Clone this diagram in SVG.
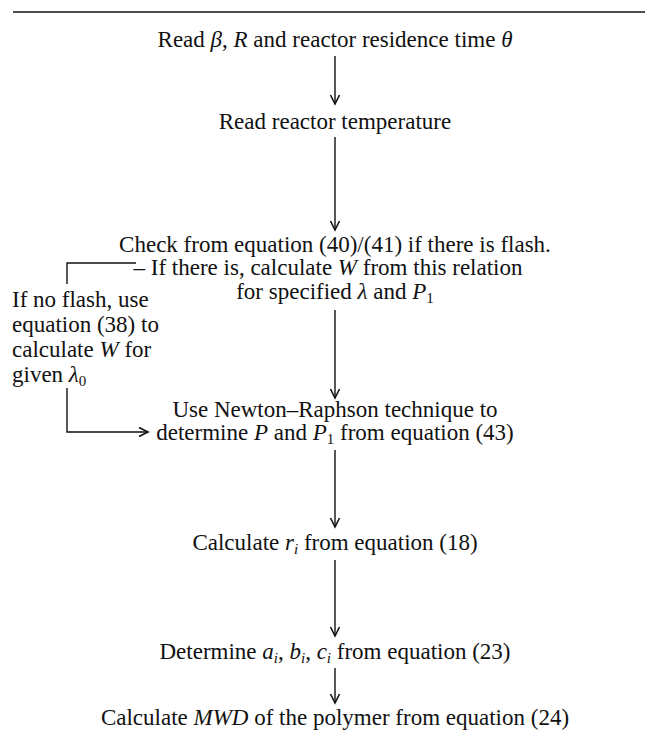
<svg xmlns="http://www.w3.org/2000/svg" width="645" height="736" viewBox="0 0 645 736">
<defs>
<style>
text{font-family:"Liberation Serif","Times New Roman",serif;font-size:23px;fill:#111}
.c{text-anchor:middle}
.i{font-style:italic}
.s{font-size:15px}
.ln{stroke:#111;stroke-width:1.4;fill:none}
</style>
<marker id="ah" markerWidth="12" markerHeight="12" refX="10" refY="6" orient="auto" markerUnits="userSpaceOnUse" viewBox="0 0 12 12">
<path d="M1,1.5 L10,6 L1,10.5" fill="none" stroke="#111" stroke-width="1.6"/>
</marker>
</defs>
<rect width="645" height="736" fill="#fff"/>
<line class="ln" x1="13" y1="12" x2="645" y2="12"/>
<g id="n1"><text class="c" x="335" y="47">Read <tspan class="i">β</tspan>, <tspan class="i">R</tspan> and reactor residence time <tspan class="i">θ</tspan></text></g>
<g id="n2"><text class="c" x="335" y="129">Read reactor temperature</text></g>
<g id="n3">
<text class="c" x="335" y="252">Check from equation (40)/(41) if there is flash.</text>
<text class="c" x="328" y="275">– If there is, calculate <tspan class="i">W</tspan> from this relation</text>
<text class="c" x="335" y="299">for specified <tspan class="i">λ</tspan> and <tspan class="i">P</tspan><tspan class="s" dy="4">1</tspan></text>
</g>
<g id="n4">
<text x="12" y="307">If no flash, use</text>
<text x="12" y="332">equation (38) to</text>
<text x="12" y="357">calculate <tspan class="i">W</tspan> for</text>
<text x="12" y="382">given <tspan class="i">λ</tspan><tspan class="s" dy="4">0</tspan></text>
</g>
<g id="n5">
<text class="c" x="335" y="417">Use Newton–Raphson technique to</text>
<text class="c" x="335" y="440">determine <tspan class="i">P</tspan> and <tspan class="i">P</tspan><tspan class="s" dy="4">1</tspan><tspan dy="-4"> from equation (43)</tspan></text>
</g>
<g id="n6"><text class="c" x="335" y="550">Calculate <tspan class="i">r</tspan><tspan class="s i" dy="4">i</tspan><tspan dy="-4"> from equation (18)</tspan></text></g>
<g id="n7"><text class="c" x="335" y="659">Determine <tspan class="i">a</tspan><tspan class="s i" dy="4">i</tspan><tspan dy="-4">, </tspan><tspan class="i">b</tspan><tspan class="s i" dy="4">i</tspan><tspan dy="-4">, </tspan><tspan class="i">c</tspan><tspan class="s i" dy="4">i</tspan><tspan dy="-4"> from equation (23)</tspan></text></g>
<g id="n8"><text class="c" x="335" y="725">Calculate <tspan class="i">MWD</tspan> of the polymer from equation (24)</text></g>
<g id="connectors">
<line class="ln" x1="335" y1="56" x2="335" y2="104" marker-end="url(#ah)"/>
<line class="ln" x1="335" y1="137" x2="335" y2="230" marker-end="url(#ah)"/>
<line class="ln" x1="335" y1="310" x2="335" y2="398" marker-end="url(#ah)"/>
<line class="ln" x1="335" y1="450" x2="335" y2="527" marker-end="url(#ah)"/>
<line class="ln" x1="335" y1="560" x2="335" y2="636" marker-end="url(#ah)"/>
<line class="ln" x1="335" y1="668" x2="335" y2="703" marker-end="url(#ah)"/>
<polyline class="ln" points="136,263 67,263 67,284"/>
<polyline class="ln" points="67,388 67,432 148,432" marker-end="url(#ah)"/>
</g>
</svg>
